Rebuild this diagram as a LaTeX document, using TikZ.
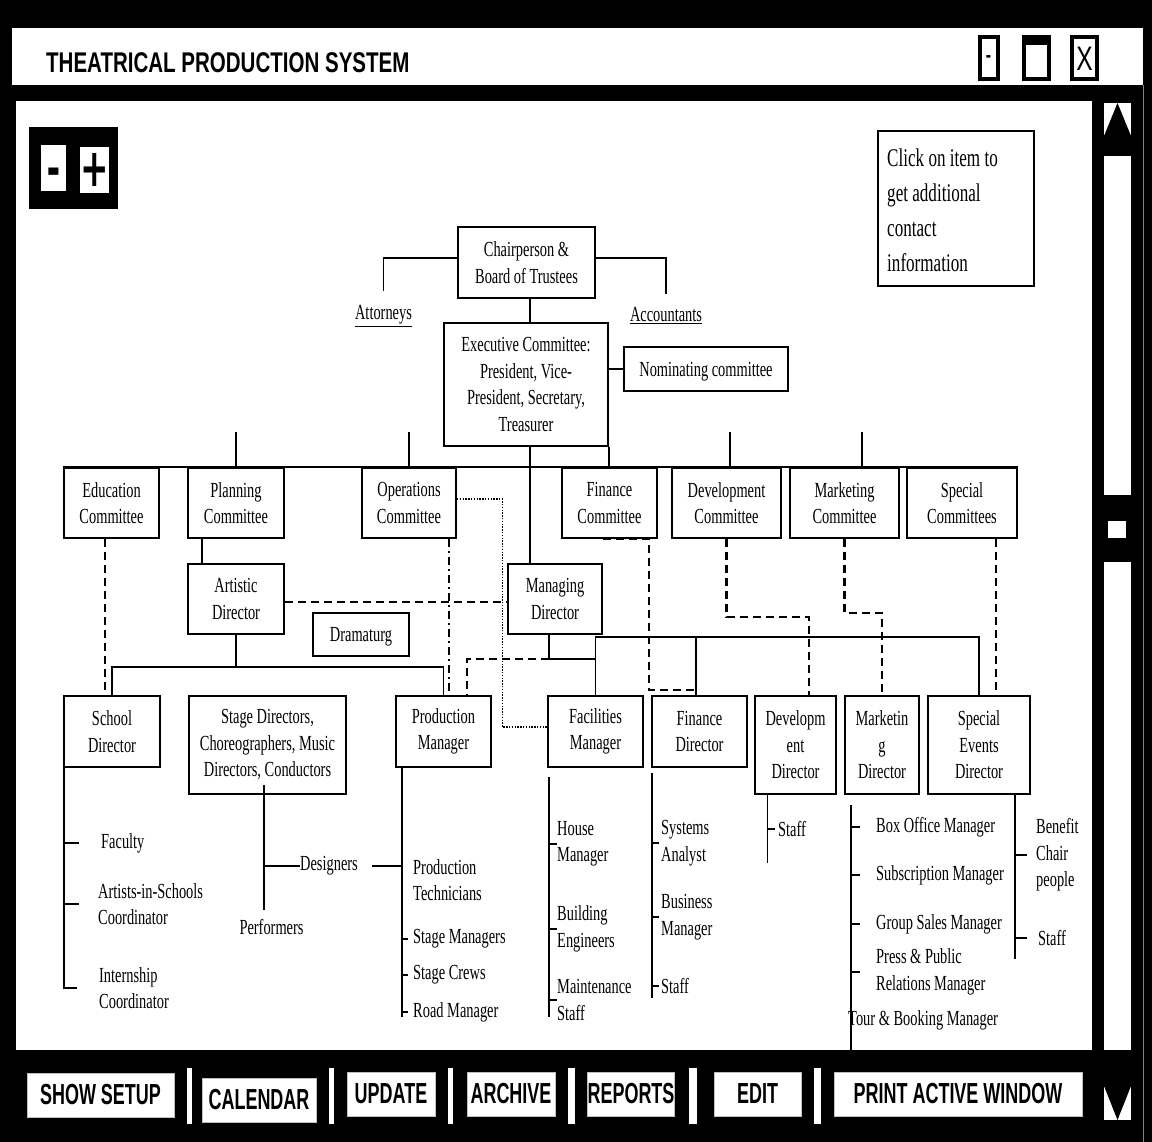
\documentclass[tikz,border=0pt]{standalone}
\usepackage{fontspec}
\newfontfamily\orgfam{Liberation Serif}[FakeStretch=0.67]
\newfontfamily\uifam{Liberation Sans}[FakeStretch=0.72]
\newfontfamily\btnfam{Liberation Sans}[FakeStretch=0.62]
\newfontfamily\symfam{DejaVu Sans}
\newcommand\myorg{\orgfam\fontsize{21.5}{26.5}\selectfont}
\newcommand\myinfo{\orgfam\fontsize{25.5}{35}\selectfont}
\newcommand\mytitle{\uifam\bfseries\fontsize{28.5}{32}\selectfont}
\newcommand\mybtn{\btnfam\bfseries\fontsize{29}{32}\selectfont}
\begin{document}
\begin{tikzpicture}[x=1pt,y=-1pt,
  obox/.style={draw=black, line width=2pt, fill=white, inner sep=0pt, align=center, font=\myorg, execute at begin node={\rule{0pt}{19.5pt}}},
  lbl/.style={inner sep=0pt, align=left, font=\myorg},
  conn/.style={line width=1.8pt},
  dsh/.style={line width=2.3pt, dash pattern=on 8pt off 5pt},
  dshdot/.style={line width=1.4pt, dash pattern=on 8pt off 4pt on 2pt off 4pt},
  dotl/.style={line width=1.4pt, dash pattern=on 1.4pt off 1.4pt},
  btn/.style={fill=white, draw=gray!50, line width=1pt, inner sep=0pt, font=\mybtn, text=black},
  winbtn/.style={draw=black, fill=white, line width=4pt, inner sep=0pt},
  zbtn/.style={fill=white, inner sep=0pt, minimum width=25pt, minimum height=46pt}
]
\useasboundingbox (0,0) rectangle (1152,1142);
\fill[black] (0,0) rectangle (1152,1142);
% title bar
\fill[white] (12,28) rectangle (1143,85);
\node[anchor=west, inner sep=0pt, font=\mytitle] (title) at (46,63) {THEATRICAL PRODUCTION SYSTEM};
\node[winbtn, minimum width=18pt, minimum height=42pt, font=\uifam\bfseries\fontsize{22}{22}\selectfont] (wmin) at (988.5,58.5) {-};
\node[winbtn, minimum width=25pt, minimum height=42pt] (wmax) at (1036,58.5) {};
\fill[black] (wmax.north west) rectangle ([yshift=-10pt]wmax.north east);
\node[winbtn, minimum width=25pt, minimum height=42pt, font=\uifam\fontsize{34}{34}\selectfont] (wclose) at (1084.5,58.5) {X};
% content panel
\fill[white] (16,101) rectangle (1092,1050);
% scrollbar
\fill[white] (1104,103) rectangle (1131,135);
\fill[black] (1104,136) -- (1117.5,103) -- (1131,136) -- cycle;
\fill[white] (1104,156) rectangle (1131,495);
\fill[white] (1108,521) rectangle (1126,538);
\fill[white] (1104,562) rectangle (1131,1050);
\fill[white] (1104,1087) rectangle (1131,1120);
\fill[black] (1104,1086) -- (1131,1086) -- (1117.5,1120) -- cycle;
\draw[gray, line width=0.8pt] (1143,85) -- (1143,1142);
% zoom control
\fill[black] (29,127) rectangle (118,209);
\node[zbtn, font=\symfam\bfseries\fontsize{34}{34}\selectfont] (zout) at (53.5,168) {\raisebox{-20pt}[0pt][0pt]{\scalebox{0.75}[1.7]{–}}};
\node[zbtn, font=\symfam\bfseries\fontsize{34}{34}\selectfont] (zin) at (94.5,170) {\scalebox{1}[1.55]{+}};
% info box
\node[draw=black, line width=2pt, fill=white, minimum width=156pt, minimum height=155pt] (info) at (956,208.5) {};
\node[lbl, anchor=north west, font=\myinfo] (infotxt) at (887,149) {Click on item to\\get additional\\contact\\information};

% org chart boxes
\node[obox, minimum width=137pt, minimum height=71pt] (chair) at (526.5,262.5) {Chairperson \&\\Board of Trustees};
\node[lbl] (att) at (383.5,316) {\underline{Attorneys}};
\node[lbl] (acc) at (666,316) {\underline{Accountants}};
\node[obox, minimum width=164pt, minimum height=123pt] (exec) at (526,384.5) {Executive Committee:\\President, Vice-\\President, Secretary,\\Treasurer};
\node[obox, minimum width=164pt, minimum height=44pt] (nom) at (706,369) {Nominating committee};

\node[obox, minimum width=95pt, minimum height=70pt] (edu) at (111.5,503) {Education\\Committee};
\node[obox, minimum width=96pt, minimum height=70pt] (plan) at (236,503) {Planning\\Committee};
\node[obox, minimum width=94pt, minimum height=70pt] (ops) at (409,503) {Operations\\Committee};
\node[obox, minimum width=95pt, minimum height=70pt] (fin) at (609.5,503) {Finance\\Committee};
\node[obox, minimum width=109pt, minimum height=70pt] (dev) at (726.5,503) {Development\\Committee};
\node[obox, minimum width=109pt, minimum height=70pt] (mkt) at (844.5,503) {Marketing\\Committee};
\node[obox, minimum width=110pt, minimum height=70pt] (spec) at (962,503) {Special\\Committees};

\node[obox, minimum width=96pt, minimum height=70pt] (art) at (236,599) {Artistic\\Director};
\node[obox, minimum width=94pt, minimum height=70pt] (md) at (555,599) {Managing\\Director};
\node[obox, minimum width=96pt, minimum height=43pt] (dram) at (361,634.5) {Dramaturg};

\node[obox, minimum width=96pt, minimum height=71pt] (school) at (112,731.5) {School\\Director};
\node[obox, minimum width=157pt, minimum height=98pt] (stage) at (267.5,745) {Stage Directors,\\Choreographers, Music\\Directors, Conductors};
\node[obox, minimum width=95pt, minimum height=71pt] (prod) at (443.5,731.5) {Production\\Manager};
\node[obox, minimum width=95pt, minimum height=71pt] (fac) at (595.5,731.5) {Facilities\\Manager};
\node[obox, minimum width=95pt, minimum height=71pt] (findir) at (699.5,731.5) {Finance\\Director};
\node[obox, minimum width=81pt, minimum height=98pt] (devdir) at (795.5,745) {Developm\\ent\\Director};
\node[obox, minimum width=74pt, minimum height=98pt] (mktdir) at (882,745) {Marketin\\g\\Director};
\node[obox, minimum width=102pt, minimum height=98pt] (specdir) at (979,745) {Special\\Events\\Director};

% list labels
\node[lbl, anchor=west] (facu) at (101,843) {Faculty};
\node[lbl, anchor=west] (aisc) at (98,904) {Artists-in-Schools\\Coordinator};
\node[lbl, anchor=west] (intc) at (99,988) {Internship\\Coordinator};
\node[lbl, anchor=west] (desg) at (300,866) {Designers};
\node[lbl] (perf) at (271.5,927) {Performers};
\node[lbl, anchor=west] (ptech) at (413,880) {Production\\Technicians};
\node[lbl, anchor=west] (stmg) at (413,939) {Stage Managers};
\node[lbl, anchor=west] (stcr) at (413,975) {Stage Crews};
\node[lbl, anchor=west] (rdmg) at (413,1012) {Road Manager};
\node[lbl, anchor=west] (hsmg) at (557,844) {House\\Manager};
\node[lbl, anchor=west] (bleng) at (557,929) {Building\\Engineers};
\node[lbl, anchor=west] (mnst) at (557,1000) {Maintenance\\Staff};
\node[lbl, anchor=west] (sysan) at (661,843) {Systems\\Analyst};
\node[lbl, anchor=west] (busmg) at (661,917) {Business\\Manager};
\node[lbl, anchor=west] (fstaff) at (661,986) {Staff};
\node[lbl, anchor=west] (dstaff) at (778,829) {Staff};
\node[lbl, anchor=west] (boxo) at (876,827) {Box Office Manager};
\node[lbl, anchor=west] (subs) at (876,875) {Subscription Manager};
\node[lbl, anchor=west] (grps) at (876,924) {Group Sales Manager};
\node[lbl, anchor=west] (press) at (876,972) {Press \& Public\\Relations Manager};
\node[lbl, anchor=west] (tour) at (848,1020) {Tour \& Booking Manager};
\node[lbl, anchor=west] (bchair) at (1036,855) {Benefit\\Chair\\people};
\node[lbl, anchor=west] (sstaff) at (1038,938) {Staff};

% top connectors
\coordinate (cx) at (530,0);
\draw[conn] ([yshift=4.5pt]chair.west) -| ([yshift=14pt]att.north);
\draw[conn] ([yshift=4.5pt]chair.east) -| ([yshift=14pt]acc.north);
\draw[conn] (chair.south -| cx) -- (exec.north -| cx);
\draw[conn] (exec.east |- nom.west) -- (nom.west);
\draw[conn] (exec.south -| cx) -- (md.north -| cx);
\draw[conn] (edu.north west) -- (spec.north east);
\draw[conn] (plan.north) -- ++(0,-35);
\draw[conn] (ops.north) -- ++(0,-35);
\draw[conn] ([xshift=3.5pt]dev.north) -- ++(0,-35);
\draw[conn] ([xshift=17.5pt]mkt.north) -- ++(0,-35);
\draw[conn] (exec.south east) -- (exec.south east |- fin.north);
\draw[conn] ([xshift=-34pt]plan.south) -- ([xshift=-34pt]art.north);
\draw[dsh] ([xshift=-6.5pt]edu.south) -- ([xshift=-7pt]school.north);
\draw[dsh] ([yshift=-3pt]art.east) -- ([yshift=-3pt]md.west);
\draw[dshdot] ([xshift=40pt]ops.south) -- ([xshift=5.5pt]prod.north);
\coordinate (dotc) at (502.5,600);
\draw[dotl] ([yshift=4pt]ops.east) -| (dotc) |- ([yshift=4.5pt]fac.west);
\coordinate (barA) at (0,667);
\draw[conn] (art.south) -- (art.south |- barA);
\draw[conn] (school.north) |- (barA -| prod.north) -- (prod.north);
\coordinate (mdj) at (0,659);
\coordinate (mdbar) at (0,637);
\coordinate (mdx) at ([xshift=-6pt]md.south);
\coordinate (fdx) at ([xshift=-3.5pt]findir.north);
\draw[conn] (mdx) |- (mdj -| fac.north);
\draw[conn] (fac.north) |- (mdbar -| specdir.north) -- (specdir.north);
\draw[conn] (fdx) -- (fdx |- mdbar);
\draw[dsh] (mdx |- mdj) -| ([xshift=23.5pt]prod.north);
\coordinate (fdc) at (649,600);
\draw[dsh] ([xshift=-6.5pt]fin.south) -| (fdc) |- ([yshift=5pt]fdx);
\coordinate (devj) at (809,617);
\draw[dsh] (dev.south) |- (devj) -- (devj |- devdir.north);
\coordinate (mktj) at (882,613);
\draw[dsh] (mkt.south) |- (mktj) -- (mktdir.north);
\draw[dsh] ([xshift=34pt]spec.south) -- ([xshift=17pt]specdir.north);

% list connectors
\coordinate (sv) at ([xshift=1pt,yshift=10pt]school.south west);
\draw[conn] (sv) |- ([xshift=-22pt]intc.west);
\draw[conn] (sv |- facu.west) -- ([xshift=-22pt]facu.west);
\draw[conn] (sv |- aisc.west) -- ([xshift=-19pt]aisc.west);
\coordinate (stv) at ([xshift=-3.5pt,yshift=10pt]stage.south);
\draw[conn] (stv) -- ++(0,125);
\draw[conn] (stv |- desg.west) -- (desg.west);
\coordinate (pv) at ([xshift=7pt]prod.south west);
\draw[conn] ([xshift=14pt]desg.east) -- (pv |- desg.east);
\draw[conn] (pv) -- ++(0,249);
\foreach \n in {stmg,stcr,rdmg} \draw[conn] (pv |- \n.west) -- ([xshift=-5pt]\n.west);
\coordinate (fv) at ([xshift=2pt,yshift=-9pt]fac.south west);
\draw[conn] (fv) -- ++(0,240);
\foreach \n in {hsmg,bleng,mnst} \draw[conn] (fv |- \n.west) -- (\n.west);
\coordinate (fdv) at ([xshift=1pt,yshift=-5pt]findir.south west);
\draw[conn] (fdv) -- ++(0,225);
\foreach \n in {sysan,busmg,fstaff} \draw[conn] (fdv |- \n.west) -- ([xshift=-2pt]\n.west);
\coordinate (dv) at ([xshift=13.5pt]devdir.south west);
\draw[conn] (dv) -- ++(0,68);
\draw[conn] (dv |- dstaff.west) -- ([xshift=-3pt]dstaff.west);
\coordinate (mv) at ([xshift=7pt,yshift=-10pt]mktdir.south west);
\draw[conn] (mv) -- ++(0,247);
\foreach \n in {boxo,subs,grps,press} \draw[conn] (mv |- \n.west) -- ++(9,0);
\coordinate (sev) at ([xshift=36pt]specdir.south);
\draw[conn] (sev) -- ++(0,164);
\draw[conn] (sev |- bchair.west) -- ++(12,0);
\draw[conn] (sev |- sstaff.west) -- ++(12,0);

% bottom buttons
\node[btn, minimum width=147pt, minimum height=44pt] (bshow) at (100.5,1095) {SHOW SETUP};
\node[btn, minimum width=114pt, minimum height=44pt] (bcal) at (259,1100) {CALENDAR};
\node[btn, minimum width=88pt, minimum height=44pt] (bupd) at (391,1094) {UPDATE};
\node[btn, minimum width=88pt, minimum height=44pt] (barc) at (511,1094) {ARCHIVE};
\node[btn, minimum width=86pt, minimum height=44pt] (brep) at (631,1094) {REPORTS};
\node[btn, minimum width=87pt, minimum height=44pt] (bedit) at (757.5,1094) {EDIT};
\node[btn, minimum width=248pt, minimum height=44pt] (bprint) at (958,1094) {PRINT ACTIVE WINDOW};
\fill[white] (187,1068) rectangle (192,1124);
\fill[white] (329,1068) rectangle (334,1124);
\fill[white] (448,1068) rectangle (453,1124);
\fill[white] (568,1068) rectangle (575,1124);
\fill[white] (689,1068) rectangle (697,1124);
\fill[white] (814,1068) rectangle (821,1124);
\end{tikzpicture}
\end{document}
